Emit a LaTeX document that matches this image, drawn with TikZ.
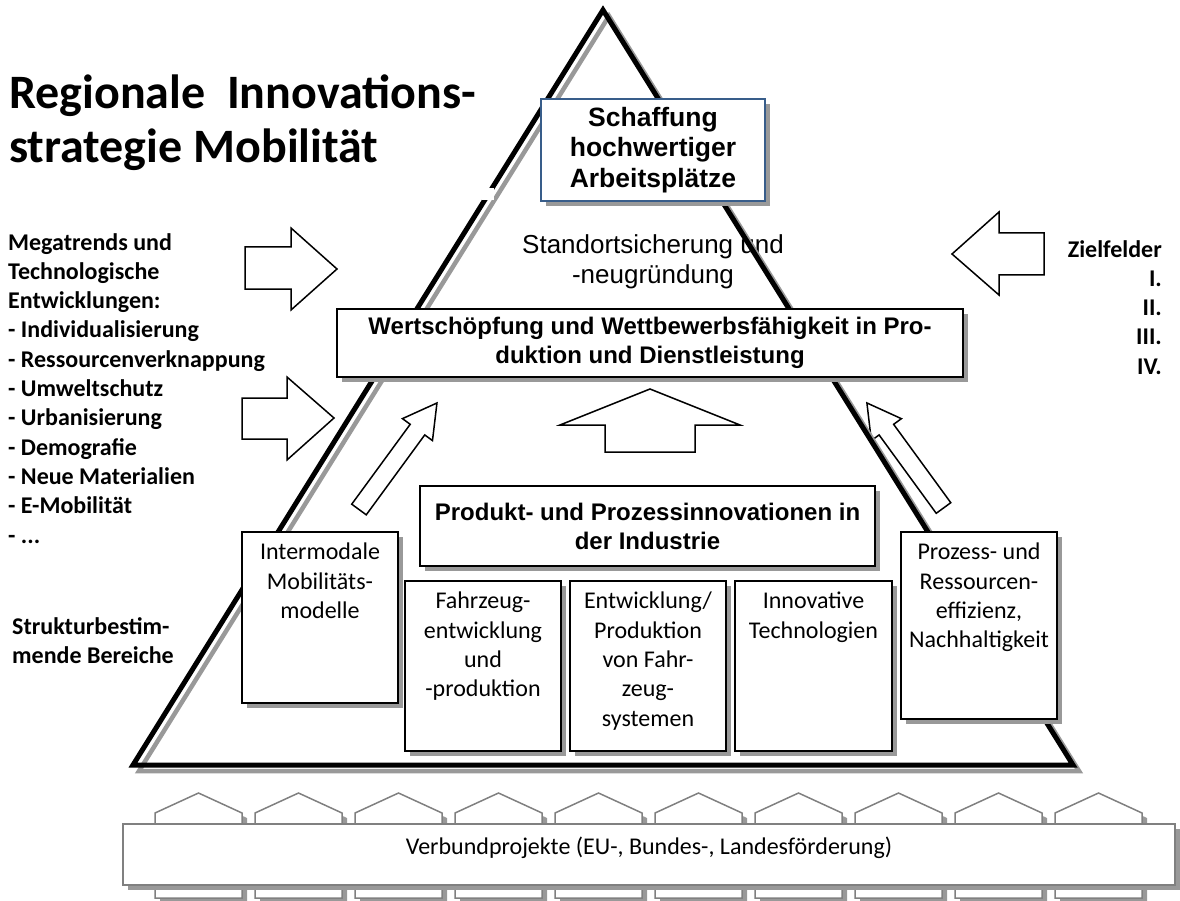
\documentclass[tikz,border=0pt]{standalone}
\usepackage{fontspec}
\setmainfont{Carlito}
\newfontfamily\arialfont{Liberation Sans}
\usepackage{tikz}
\usetikzlibrary{positioning,shadows}

\definecolor{boxblue}{RGB}{56,93,138}
\definecolor{shadowgray}{RGB}{153,153,153}
\definecolor{housegray}{RGB}{128,128,128}

\begin{document}
\begin{tikzpicture}[x=1pt,y=-1pt,
  box/.style={draw,fill=white,line width=1.8pt,inner sep=0pt,
    drop shadow={shadow xshift=5pt,shadow yshift=-5pt,fill=shadowgray,opacity=1}},
  boxtext/.style={align=center,inner sep=0pt,font=\fontsize{24}{29.3}\selectfont},
  headline/.style={align=center,font=\arialfont\bfseries\fontsize{24}{29}\selectfont},
  sidetext/.style={inner sep=0pt,font=\bfseries\fontsize{24}{29.3}\selectfont},
  blockarrow/.style={draw,fill=white,line width=1.5pt,line join=miter},
  house/.style={draw=housegray,fill=white,line width=1.5pt,
    drop shadow={shadow xshift=5pt,shadow yshift=-5pt,fill=shadowgray,opacity=1}}]
\useasboundingbox (0,0) rectangle (1180,901);

% Title and side texts
\node[inner sep=0pt,align=left,anchor=north west,font=\bfseries\fontsize{48}{54}\selectfont] (title) at (9,75) {Regionale~~Innovations-\\strategie Mobilität};

\node[sidetext,align=left,anchor=north west] (trends) at (8,233) {Megatrends und\\Technologische\\Entwicklungen:\\- Individualisierung\\- Ressourcenverknappung\\- Umweltschutz\\- Urbanisierung\\- Demografie\\- Neue Materialien\\- E-Mobilität\\- ...};
\node[sidetext,align=left,anchor=north west] (bereiche) at (12,617) {Strukturbestim-\\mende Bereiche};
\node[sidetext,align=right,anchor=north east] (ziele) at (1162,240) {Zielfelder\\I.\\II.\\III.\\IV.};

\node[align=center,font=\arialfont\fontsize{26}{30}\selectfont] (standort) at (653,262) {Standortsicherung und\\-neugründung};

% block arrows
\draw[blockarrow] (245,247) -- (291,247) -- (291,228) -- (337,269) -- (291,310) -- (291,289) -- (245,289) -- cycle;
\draw[blockarrow] (242,398) -- (287,398) -- (287,377) -- (334,418) -- (287,460) -- (287,439) -- (242,439) -- cycle;
\draw[blockarrow] (1044,233) -- (999,233) -- (999,212) -- (952,254) -- (999,295) -- (999,275) -- (1044,275) -- cycle;
\draw[blockarrow] (605,452) -- (605,425) -- (560,425) -- (650,389) -- (740,425) -- (695,425) -- (695,452) -- cycle;
\draw[blockarrow,shift={(359,509.5)},rotate=53.8] (0,-9) -- (99,-9) -- (99,-18.6) -- (132,0) -- (99,18.6) -- (99,9) -- (0,9) -- cycle;
\draw[blockarrow,shift={(943.5,508)},rotate=126.1] (0,-9) -- (97,-9) -- (97,-18.6) -- (130,0) -- (97,18.6) -- (97,9) -- (0,9) -- cycle;

% pyramid
\coordinate (apex) at (603,10);
\coordinate (baseleft) at (133,765);
\coordinate (baseright) at (1073,765);
\draw[shadowgray,line width=4.5pt,line join=miter] ([shift={(6,6)}]apex) -- ([shift={(6,6)}]baseleft) -- ([shift={(6,6)}]baseright) -- cycle;
\draw[line width=5pt,line join=miter] (apex) -- (baseleft) -- (baseright) -- cycle;
\fill[white] (482,188) rectangle (494,200);

% boxes
\node[box,draw=boxblue,line width=1.5pt,minimum width=224pt,minimum height=102pt,align=center,font=\arialfont\bfseries\fontsize{26.5}{30.5}\selectfont] (schaffung) at (653,150) {Schaffung\\hochwertiger\\Arbeitsplätze};

\node[box,headline,minimum width=626pt,minimum height=68pt] (wert) at (650,343) {Wertschöpfung und Wettbewerbsfähigkeit in Pro-\\duktion und Dienstleistung};

\node[box,headline,minimum width=455pt,minimum height=80pt] (produkt) at (647.5,526) {Produkt- und Prozessinnovationen in\\der Industrie};

\node[box,minimum width=156pt,minimum height=171pt] (intermodal) at (320,617.5) {};
\node[boxtext,below=12pt of intermodal.north] (intermodal-text) {Intermodale\\Mobilitäts-\\modelle};

\node[box,minimum width=156pt,minimum height=170pt] (fahrzeug) at (483,666) {};
\node[boxtext,below=12pt of fahrzeug.north] (fahrzeug-text) {Fahrzeug-\\entwicklung\\und\\-produktion};

\node[box,minimum width=156pt,minimum height=170pt] (systeme) at (648,666) {};
\node[boxtext,below=12pt of systeme.north] (systeme-text) {Entwicklung/\\Produktion\\von Fahr-\\zeug-\\systemen};

\node[box,minimum width=157pt,minimum height=170pt] (technologie) at (813.5,666) {};
\node[boxtext,below=12pt of technologie.north] (technologie-text) {Innovative\\Technologien};

\node[box,minimum width=156pt,minimum height=187pt] (effizienz) at (979,625.5) {};
\node[boxtext,below=12pt of effizienz.north] (effizienz-text) {Prozess- und\\Ressourcen-\\effizienz,\\Nachhaltigkeit};

% projects at the foundation
\draw[house] (155,898) -- (155,813) -- (198.5,793) -- (242,813) -- (242,898) -- cycle;
\draw[house] (255,898) -- (255,813) -- (298.5,793) -- (342,813) -- (342,898) -- cycle;
\draw[house] (355,898) -- (355,813) -- (398.5,793) -- (442,813) -- (442,898) -- cycle;
\draw[house] (455,898) -- (455,813) -- (498.5,793) -- (542,813) -- (542,898) -- cycle;
\draw[house] (555,898) -- (555,813) -- (598.5,793) -- (642,813) -- (642,898) -- cycle;
\draw[house] (655,898) -- (655,813) -- (698.5,793) -- (742,813) -- (742,898) -- cycle;
\draw[house] (755,898) -- (755,813) -- (798.5,793) -- (842,813) -- (842,898) -- cycle;
\draw[house] (855,898) -- (855,813) -- (898.5,793) -- (942,813) -- (942,898) -- cycle;
\draw[house] (955,898) -- (955,813) -- (998.5,793) -- (1042,813) -- (1042,898) -- cycle;
\draw[house] (1055,898) -- (1055,813) -- (1098.5,793) -- (1142,813) -- (1142,898) -- cycle;

\node[box,draw=housegray,line width=1.5pt,minimum width=1052pt,minimum height=61pt] (verbund) at (649,854.5) {};
\node[font=\fontsize{24}{29}\selectfont] (verbund-text) at (649,848) {Verbundprojekte (EU-, Bundes-, Landesförderung)};

\end{tikzpicture}
\end{document}
